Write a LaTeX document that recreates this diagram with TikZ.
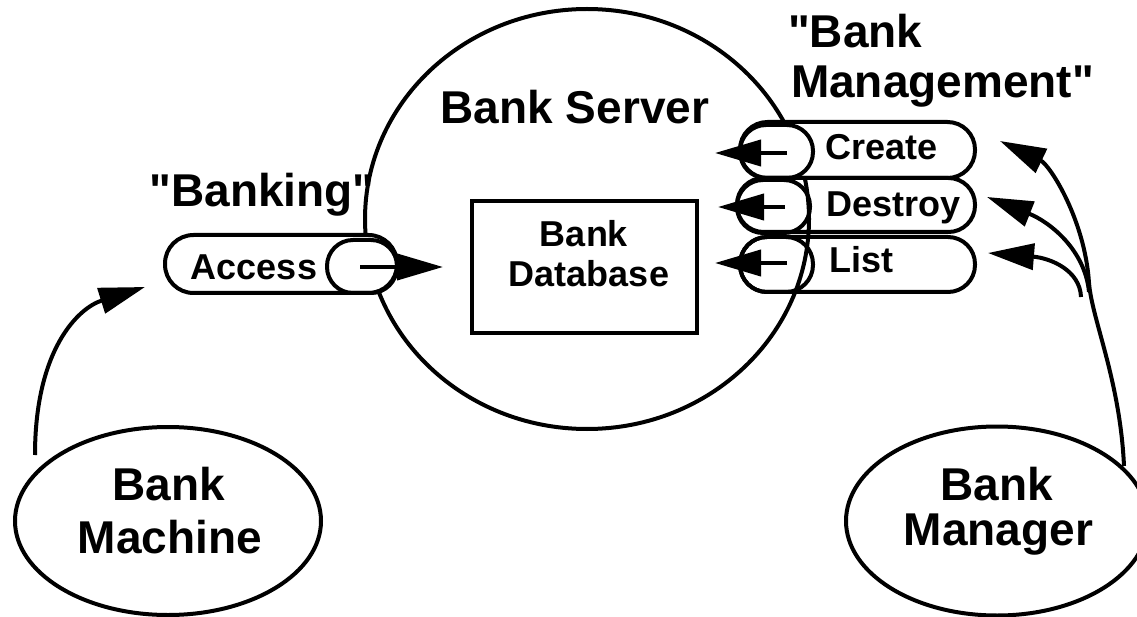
\documentclass[tikz,border=0pt]{standalone}
\usepackage{fontspec}
\setmainfont{Liberation Sans}
\newfontfamily\lsans{Liberation Sans}
\usetikzlibrary{arrows.meta,shapes.geometric}
\begin{document}
\begin{tikzpicture}[x=1pt,y=-1pt, line width=4pt,
  big/.style={font=\lsans\fontsize{46}{50}\selectfont\bfseries, inner sep=0pt, anchor=base},
  small/.style={font=\lsans\fontsize{36}{40}\selectfont\bfseries, inner sep=0pt, anchor=base},
  pill/.style={draw, inner sep=0pt, rounded corners=#1},
  arr/.style={-{Triangle[length=46pt,width=26pt]}},
  oval/.style={draw, ellipse, inner sep=0pt}
]
\useasboundingbox (0,0) rectangle (1137,617);

% server
\node[oval, minimum width=444pt, minimum height=420pt] (server) at (587,219) {};
\node[big] (servertxt) at (575,124) {Bank Server};

% database
\node[draw, minimum width=225pt, minimum height=132pt, inner sep=0pt] (db) at (584.5,267) {};
\node[small] (dbt1) at (584,247) {Bank};
\node[small] (dbt2) at (589,287) {Database};

% Banking interface
\node[big] (banking) at (262,207) {"Banking"};
\node[pill=28.5pt, fill=white, minimum width=232pt, minimum height=58pt] (access) at (281,264) {};
\node[pill=26pt, minimum width=70pt, minimum height=53pt] (accknob) at (362,266.5) {};
\node[small] (acctxt) at (254,280) {Access};
\coordinate (acca) at (360,267);
\coordinate (accb) at (443,267);
\draw[arr] (acca) -- (accb);

% Bank Management interface
\node[big, anchor=base west] (mg1) at (786,48) {"Bank};
\node[big, anchor=base west] (mg2) at (789,98) {Management"};

\node[pill=27.5pt, fill=white, minimum width=235pt, minimum height=56pt] (create) at (857.5,150) {};
\node[pill=26pt, minimum width=73pt, minimum height=53pt] (cknob) at (776.5,151.5) {};
\node[pill=26.5pt, minimum width=238pt, minimum height=54pt] (destroy) at (856,205) {};
\node[pill=26pt, minimum width=73pt, minimum height=53pt] (dknob) at (773.5,206.5) {};
\node[pill=27pt, minimum width=235pt, minimum height=55pt] (list) at (857.5,264.5) {};
\node[pill=27pt, minimum width=73pt, minimum height=55pt] (lknob) at (776.5,264.5) {};

\node[small, anchor=base west] (ctxt) at (823,160) {Create};
\node[small, anchor=base west] (dtxt) at (824.5,217) {Destroy};
\node[small, anchor=base west] (ltxt) at (827.5,273) {List};

\coordinate (ca) at (787,153); \coordinate (cb) at (715,153);
\coordinate (da) at (785,207); \coordinate (db2) at (718,207);
\coordinate (la) at (787,263); \coordinate (lb) at (715,263);
\draw[arr] (ca) -- (cb);
\draw[arr] (da) -- (db2);
\draw[arr] (la) -- (lb);

% Bank Machine
\node[oval, minimum width=306pt, minimum height=188pt] (machine) at (168,521) {};
\node[big] (mt1) at (168.5,500) {Bank};
\node[big] (mt2) at (170,553) {Machine};
\coordinate (ma0) at (35,455);
\coordinate (ma1) at (145,287);
\draw[arr] (ma0) .. controls (35,350) and (78,308) .. (ma1);

% Bank Manager
\node[oval, minimum width=302pt, minimum height=189pt] (manager) at (997,521) {};
\node[big] (mgt1) at (996.5,500) {Bank};
\node[big] (mgt2) at (998.5,545) {Manager};

\coordinate (m0) at (1124,466);
\coordinate (mj) at (1089,283);
\coordinate (cr) at (1000,141);
\coordinate (de) at (987,197);
\coordinate (li) at (988,253);
\coordinate (jn) at (1089,292);
\coordinate (ls) at (1081,297);
\draw[arr] (m0) .. controls (1120,380) and (1092,320) .. (mj) .. controls (1085,220) and (1050,165) .. (cr);
\draw[arr] (jn) .. controls (1085,250) and (1050,222) .. (de);
\draw[arr] (ls) .. controls (1080,270) and (1050,258) .. (li);
\end{tikzpicture}
\end{document}
